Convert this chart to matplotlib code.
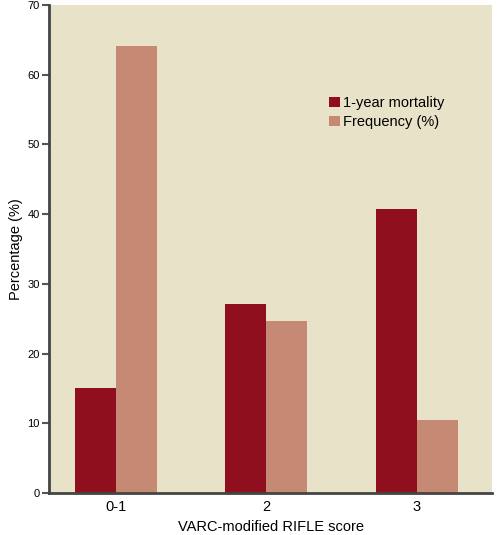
import matplotlib
matplotlib.use("Agg")
import matplotlib.pyplot as plt
import numpy as np

categories = ["0-1", "2", "3"]
mortality = [15.0, 27.1, 40.8]
frequency = [64.2, 24.7, 10.5]
series_names = ["1-year mortality", "Frequency (%)"]
yticks = [0, 10, 20, 30, 40, 50, 60, 70]

plt.rcParams['font.family'] = ['Liberation Sans', 'DejaVu Sans']

fig = plt.figure(figsize=(5.02, 5.35), dpi=100)
ax = fig.add_axes([0.0976, 0.0785, 0.8825, 0.912])
ax.set_facecolor('#E8E3C8')
fig.patch.set_facecolor('white')

x = np.arange(len(categories))
w = 0.272
ax.bar(x - w/2, mortality, w, color='#8F0F1E', label=series_names[0], zorder=2)
ax.bar(x + w/2, frequency, w, color='#C68A74', label=series_names[1], zorder=2)

ax.set_xlim(-0.445, 2.5)
ax.set_ylim(0, 70)
ax.set_yticks(yticks)
ax.set_xticks(x)
ax.set_xticklabels(categories, fontsize=10.5)
ax.tick_params(axis='y', labelsize=8, length=5, width=1.5, color='#555555', pad=1.5)
ax.tick_params(axis='x', length=0, pad=5)
for s in ['top', 'right']:
    ax.spines[s].set_visible(False)
for s in ['left', 'bottom']:
    ax.spines[s].set_color('#444444')
    ax.spines[s].set_linewidth(2)

ax.set_xlabel("VARC-modified RIFLE score", fontsize=10.5, labelpad=4)
ax.set_ylabel("Percentage (%)", fontsize=10.5, labelpad=3)

ax.legend(loc='upper left', bbox_to_anchor=(0.62, 0.825), frameon=False,
          fontsize=10.5, handlelength=0.7, handleheight=0.7, handletextpad=0.25,
          labelspacing=0.35, borderaxespad=0)

fig.savefig("out.png", dpi=100)
